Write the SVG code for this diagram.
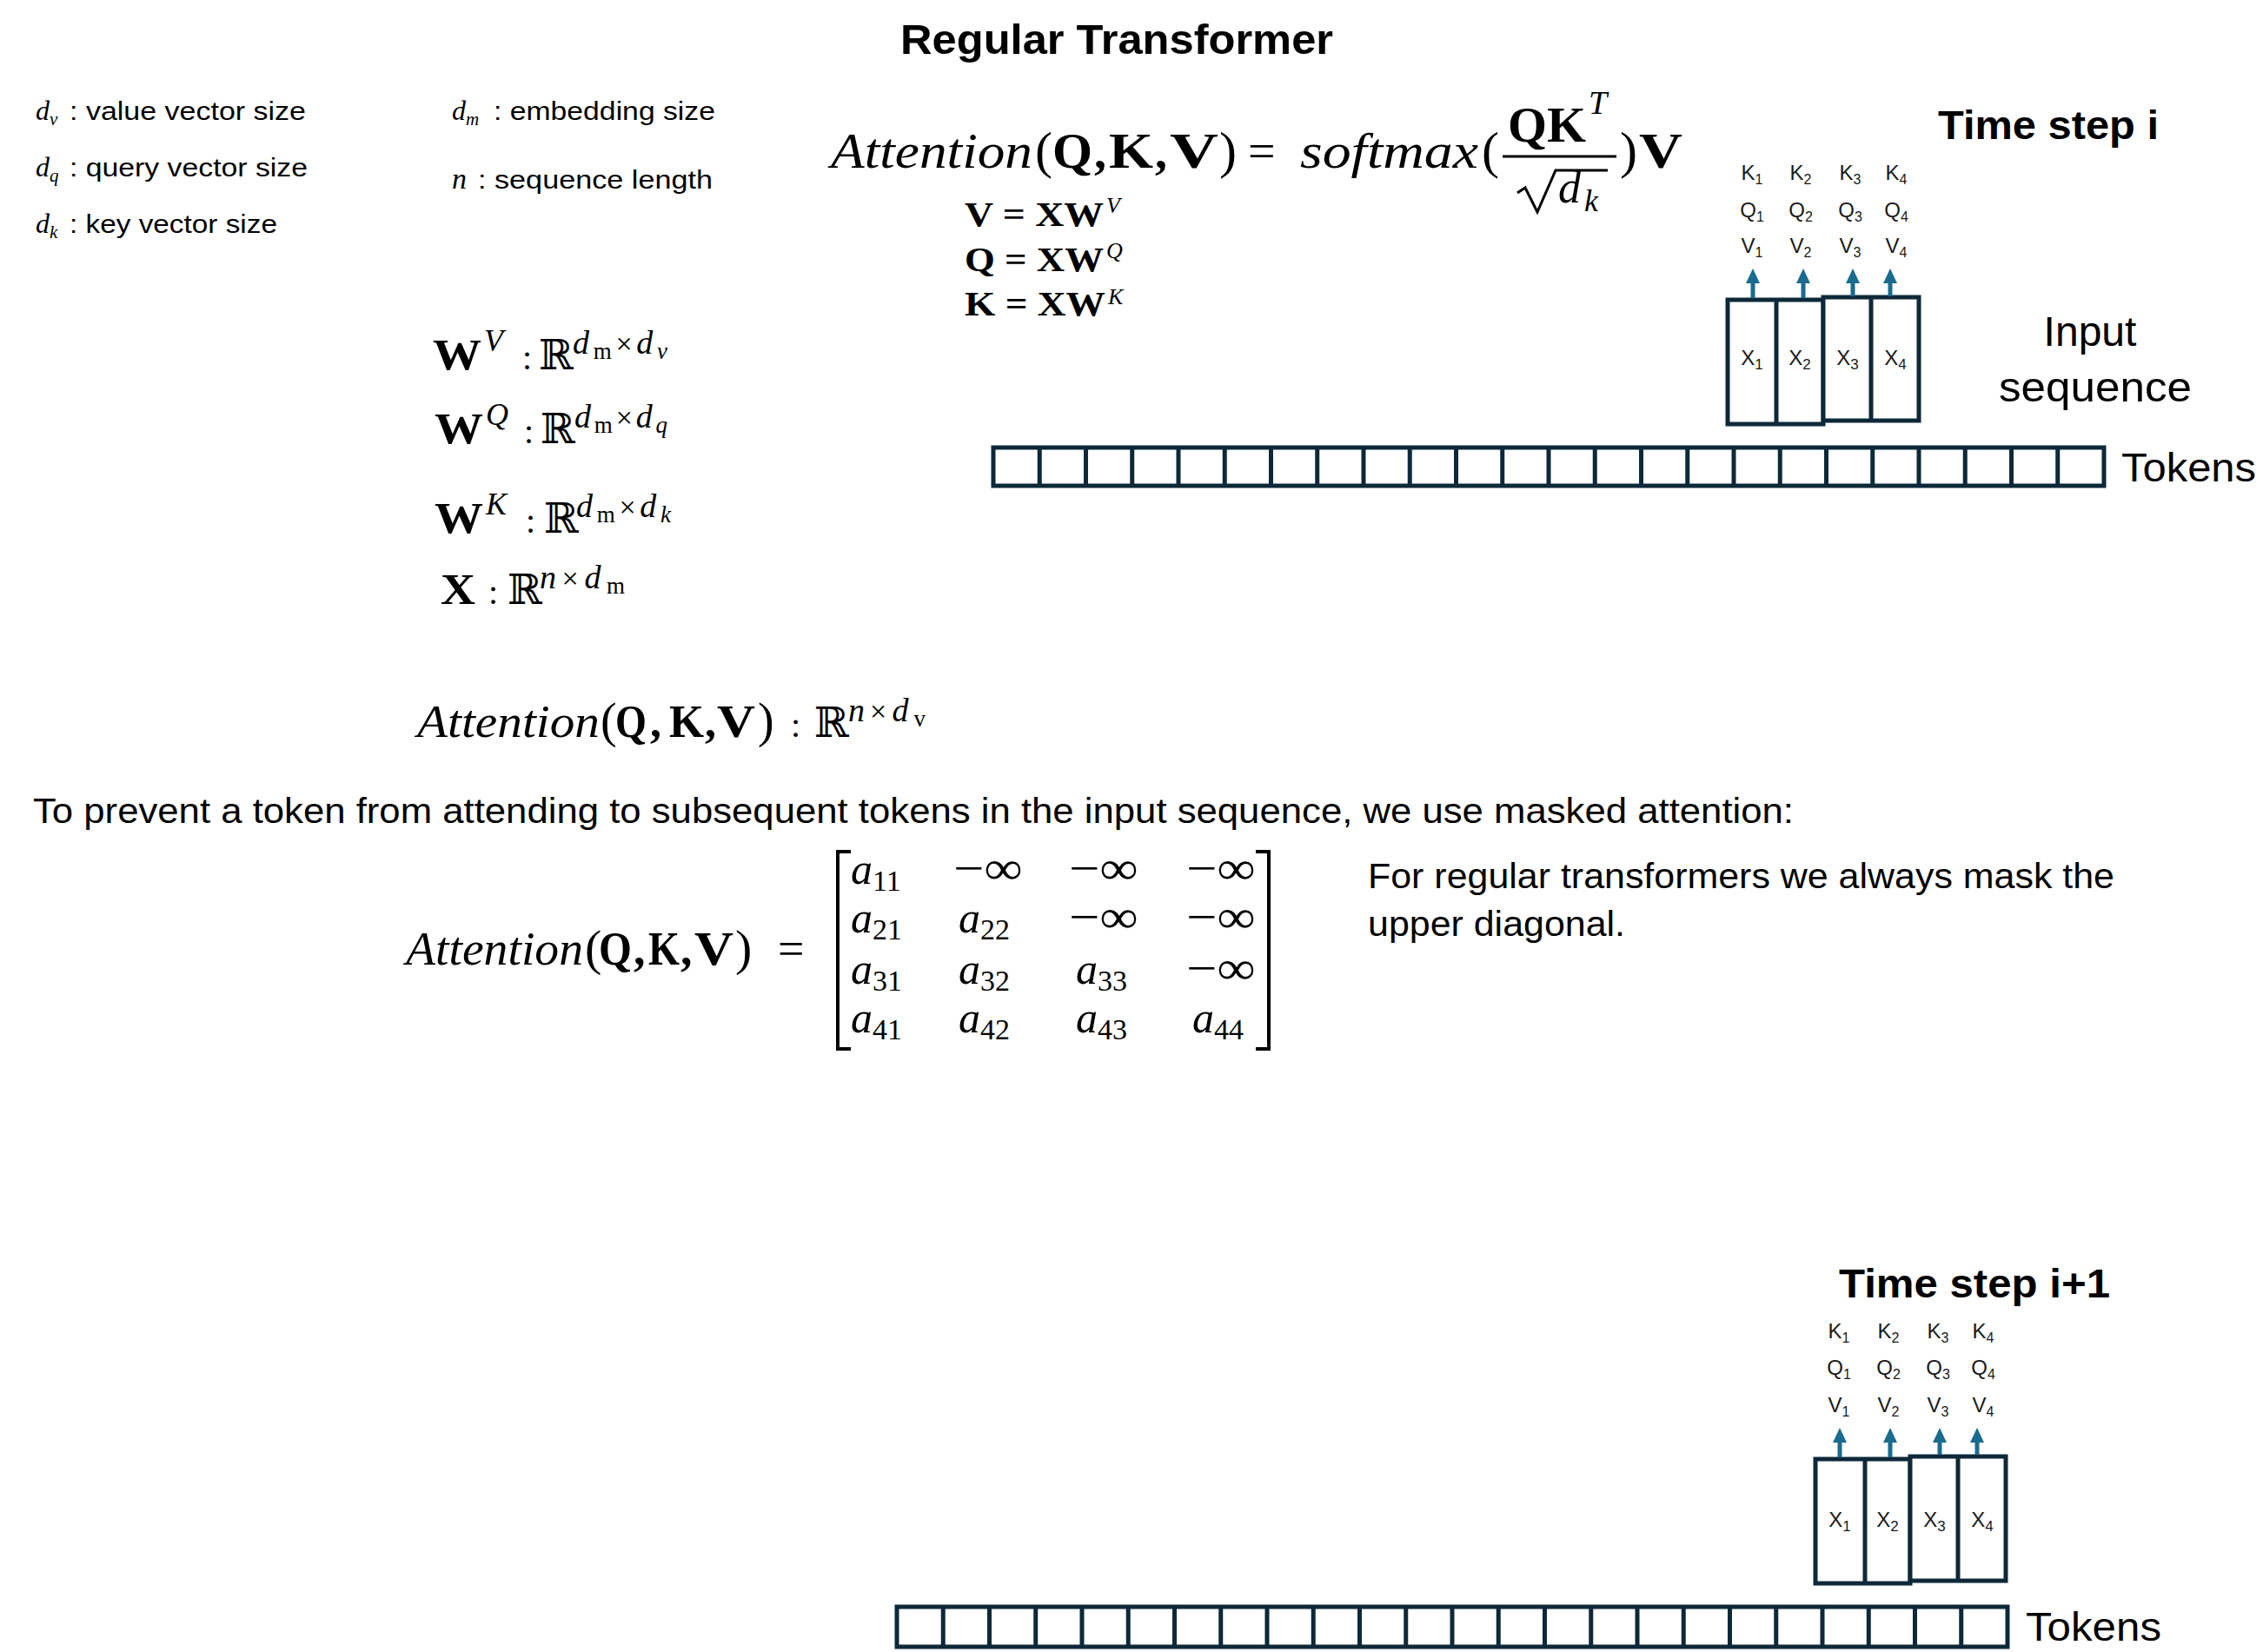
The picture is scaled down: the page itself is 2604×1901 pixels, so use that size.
<svg xmlns="http://www.w3.org/2000/svg" width="2604" height="1901" viewBox="0 0 2604 1901">
<style>
  .sans{font-family:"Liberation Sans",Arial,sans-serif;fill:#000}
  .bold{font-family:"Liberation Sans",Arial,sans-serif;font-weight:bold;fill:#000}
  .ser{font-family:"Liberation Serif","Times New Roman",serif;fill:#000}
  .it{font-family:"Liberation Serif","Times New Roman",serif;font-style:italic;fill:#000}
  .bf{font-family:"Liberation Serif","Times New Roman",serif;font-weight:bold;fill:#000}
  .bb{font-family:"DejaVu Serif","Liberation Serif",serif;fill:#000}
  .lbl{font-family:"Liberation Sans",Arial,sans-serif;font-size:24px;fill:#1a1a1a;text-anchor:middle}
  .box{fill:#fff;stroke:#0D2939;stroke-width:5}
  .strip{fill:none;stroke:#0D2939;stroke-width:5}
  .arrow{stroke:#1B6B8E;stroke-width:5;fill:none}
</style>
<defs>
  <marker id="ah" markerUnits="userSpaceOnUse" markerWidth="18" markerHeight="18" refX="0" refY="8" orient="auto">
    <path d="M0,0 L17,8 L0,16 z" fill="#1B6B8E"/>
  </marker>
</defs>
<rect width="2604" height="1901" fill="#fff"/>

<g id="title">
  <text class="bold" x="1036" y="62" font-size="48" textLength="498" lengthAdjust="spacingAndGlyphs">Regular  Transformer</text>
</g>

<g id="definitions">
  <text class="it" x="41" y="138" font-size="32">d<tspan font-size="21" dy="6">v</tspan></text>
  <text class="sans" x="80" y="138" font-size="30" textLength="272" lengthAdjust="spacingAndGlyphs">: value vector size</text>
  <text class="it" x="41" y="203" font-size="32">d<tspan font-size="21" dy="6">q</tspan></text>
  <text class="sans" x="80" y="203" font-size="30" textLength="274" lengthAdjust="spacingAndGlyphs">: query vector size</text>
  <text class="it" x="41" y="268" font-size="32">d<tspan font-size="21" dy="6">k</tspan></text>
  <text class="sans" x="80" y="268" font-size="30" textLength="239" lengthAdjust="spacingAndGlyphs">: key vector size</text>
  <text class="it" x="520" y="138" font-size="32">d<tspan font-size="21" dy="6">m</tspan></text>
  <text class="sans" x="568" y="138" font-size="30" textLength="255" lengthAdjust="spacingAndGlyphs">: embedding size</text>
  <text class="it" x="520" y="217" font-size="34">n</text>
  <text class="sans" x="550" y="217" font-size="30" textLength="270" lengthAdjust="spacingAndGlyphs">: sequence length</text>
</g>

<g id="attention-formula">
  <text class="it" x="956" y="193" font-size="56" textLength="232" lengthAdjust="spacingAndGlyphs">Attention</text>
  <text class="ser" x="1191" y="193" font-size="60">(</text>
  <text class="bf" x="1211" y="193" font-size="56" textLength="46" lengthAdjust="spacingAndGlyphs">Q</text>
  <text class="bf" x="1259" y="193" font-size="56">,</text>
  <text class="bf" x="1276" y="193" font-size="56" textLength="51" lengthAdjust="spacingAndGlyphs">K</text>
  <text class="bf" x="1329" y="193" font-size="56">,</text>
  <text class="bf" x="1346" y="193" font-size="56" textLength="56" lengthAdjust="spacingAndGlyphs">V</text>
  <text class="ser" x="1403" y="193" font-size="60">)</text>
  <text class="ser" x="1436" y="193" font-size="56">=</text>
  <text class="it" x="1496" y="193" font-size="56" textLength="205" lengthAdjust="spacingAndGlyphs">softmax</text>
  <text class="ser" x="1705" y="193" font-size="60">(</text>
  <text class="bf" x="1735" y="163" font-size="56" textLength="90" lengthAdjust="spacingAndGlyphs">QK</text>
  <text class="it" x="1828" y="131" font-size="38">T</text>
  <line x1="1729" y1="180" x2="1860" y2="180" stroke="#000" stroke-width="3"/>
  <path d="M1746,222 L1755,216 L1769,244 L1790,196 H1850" fill="none" stroke="#000" stroke-width="3" stroke-linejoin="miter"/>
  <text class="it" x="1793" y="233" font-size="52">d</text>
  <text class="it" x="1823" y="243" font-size="36">k</text>
  <text class="ser" x="1864" y="193" font-size="60">)</text>
  <text class="bf" x="1886" y="193" font-size="56" textLength="50" lengthAdjust="spacingAndGlyphs">V</text>
</g>

<g id="projections">
  <text class="bf" x="1110" y="260" font-size="40" textLength="160" lengthAdjust="spacingAndGlyphs">V = XW</text>
  <text class="it" x="1273" y="245" font-size="26">V</text>
  <text class="bf" x="1110" y="312" font-size="40" textLength="160" lengthAdjust="spacingAndGlyphs">Q = XW</text>
  <text class="it" x="1273" y="297" font-size="26">Q</text>
  <text class="bf" x="1110" y="363" font-size="40" textLength="162" lengthAdjust="spacingAndGlyphs">K = XW</text>
  <text class="it" x="1275" y="350" font-size="26">K</text>
</g>

<g id="dimensions">
  <text class="bf" x="498" y="425" font-size="50" textLength="56" lengthAdjust="spacingAndGlyphs">W</text>
  <text class="it" x="557" y="404" font-size="36">V</text>
  <text class="ser" x="601" y="425" font-size="40">:</text>
  <text class="bb" x="620" y="425" font-size="48">ℝ</text>
  <text class="it" x="659" y="407" font-size="38" textLength="109" lengthAdjust="spacing">d<tspan class="ser" font-style="normal" font-size="27" dy="6">m</tspan><tspan class="ser" font-style="normal" font-size="34" dy="-6">×</tspan>d<tspan font-size="27" dy="6">v</tspan></text>

  <text class="bf" x="500" y="510" font-size="50" textLength="56" lengthAdjust="spacingAndGlyphs">W</text>
  <text class="it" x="559" y="489" font-size="36">Q</text>
  <text class="ser" x="603" y="510" font-size="40">:</text>
  <text class="bb" x="622" y="510" font-size="48">ℝ</text>
  <text class="it" x="661" y="492" font-size="38" textLength="107" lengthAdjust="spacing">d<tspan class="ser" font-style="normal" font-size="27" dy="6">m</tspan><tspan class="ser" font-style="normal" font-size="34" dy="-6">×</tspan>d<tspan font-size="27" dy="6">q</tspan></text>

  <text class="bf" x="500" y="613" font-size="50" textLength="56" lengthAdjust="spacingAndGlyphs">W</text>
  <text class="it" x="559" y="592" font-size="36">K</text>
  <text class="ser" x="605" y="613" font-size="40">:</text>
  <text class="bb" x="626" y="613" font-size="48">ℝ</text>
  <text class="it" x="663" y="595" font-size="38" textLength="109" lengthAdjust="spacing">d<tspan class="ser" font-style="normal" font-size="27" dy="6">m</tspan><tspan class="ser" font-style="normal" font-size="34" dy="-6">×</tspan>d<tspan font-size="27" dy="6">k</tspan></text>

  <text class="bf" x="507" y="695" font-size="50" textLength="40" lengthAdjust="spacingAndGlyphs">X</text>
  <text class="ser" x="562" y="695" font-size="40">:</text>
  <text class="bb" x="584" y="695" font-size="48">ℝ</text>
  <text class="it" x="621" y="677" font-size="38" textLength="98" lengthAdjust="spacing">n<tspan class="ser" font-style="normal" font-size="34">×</tspan>d<tspan class="ser" font-style="normal" font-size="27" dy="6">m</tspan></text>

  <text class="it" x="480" y="848" font-size="52" textLength="210" lengthAdjust="spacingAndGlyphs">Attention</text>
  <text class="ser" x="691" y="848" font-size="56">(</text>
  <text class="bf" x="708" y="848" font-size="52" textLength="36" lengthAdjust="spacingAndGlyphs">Q</text>
  <text class="bf" x="748" y="848" font-size="52">,</text>
  <text class="bf" x="770" y="848" font-size="52" textLength="40" lengthAdjust="spacingAndGlyphs">K</text>
  <text class="bf" x="811" y="848" font-size="52">,</text>
  <text class="bf" x="825" y="848" font-size="52" textLength="44" lengthAdjust="spacingAndGlyphs">V</text>
  <text class="ser" x="872" y="848" font-size="56">)</text>
  <text class="ser" x="910" y="848" font-size="40">:</text>
  <text class="bb" x="937" y="848" font-size="48">ℝ</text>
  <text class="it" x="976" y="830" font-size="38" textLength="89" lengthAdjust="spacing">n<tspan class="ser" font-style="normal" font-size="34">×</tspan>d<tspan class="ser" font-style="normal" font-size="27" dy="6">v</tspan></text>
</g>

<g id="mask-text">
  <text class="sans" x="38" y="947" font-size="40" textLength="2026" lengthAdjust="spacingAndGlyphs">To prevent a token from attending to subsequent tokens in the input sequence, we use masked attention:</text>
  <text class="sans" x="1574" y="1022" font-size="40" textLength="859" lengthAdjust="spacingAndGlyphs">For regular transformers we always mask the</text>
  <text class="sans" x="1574" y="1077" font-size="40" textLength="296" lengthAdjust="spacingAndGlyphs">upper diagonal.</text>
</g>

<g id="masked-matrix">
  <text class="it" x="467" y="1110" font-size="54" textLength="204" lengthAdjust="spacingAndGlyphs">Attention</text>
  <text class="ser" x="673" y="1110" font-size="58">(</text>
  <text class="bf" x="689" y="1110" font-size="54" textLength="38" lengthAdjust="spacingAndGlyphs">Q</text>
  <text class="bf" x="729" y="1110" font-size="54">,</text>
  <text class="bf" x="746" y="1110" font-size="54" textLength="36" lengthAdjust="spacingAndGlyphs">K</text>
  <text class="bf" x="783" y="1110" font-size="54">,</text>
  <text class="bf" x="799" y="1110" font-size="54" textLength="45" lengthAdjust="spacingAndGlyphs">V</text>
  <text class="ser" x="846" y="1110" font-size="58">)</text>
  <text class="ser" x="895" y="1110" font-size="54">=</text>
  <path d="M979,980 H964 V1207 H979 M1445,980 H1460 V1207 H1445" fill="none" stroke="#000" stroke-width="4"/>
  <g class="it" font-size="50">
    <text x="979" y="1017">a<tspan class="ser" font-style="normal" font-size="34" dy="8">11</tspan></text>
    <text x="979" y="1073">a<tspan class="ser" font-style="normal" font-size="34" dy="8">21</tspan></text>
    <text x="979" y="1132">a<tspan class="ser" font-style="normal" font-size="34" dy="8">31</tspan></text>
    <text x="979" y="1188">a<tspan class="ser" font-style="normal" font-size="34" dy="8">41</tspan></text>
    <text x="1103" y="1073">a<tspan class="ser" font-style="normal" font-size="34" dy="8">22</tspan></text>
    <text x="1103" y="1132">a<tspan class="ser" font-style="normal" font-size="34" dy="8">32</tspan></text>
    <text x="1103" y="1188">a<tspan class="ser" font-style="normal" font-size="34" dy="8">42</tspan></text>
    <text x="1238" y="1132">a<tspan class="ser" font-style="normal" font-size="34" dy="8">33</tspan></text>
    <text x="1238" y="1188">a<tspan class="ser" font-style="normal" font-size="34" dy="8">43</tspan></text>
    <text x="1372" y="1188">a<tspan class="ser" font-style="normal" font-size="34" dy="8">44</tspan></text>
  </g>
  <g class="ser" font-size="54">
    <text x="1097" y="1017" textLength="80" lengthAdjust="spacingAndGlyphs">−∞</text>
    <text x="1230" y="1017" textLength="80" lengthAdjust="spacingAndGlyphs">−∞</text>
    <text x="1365" y="1017" textLength="80" lengthAdjust="spacingAndGlyphs">−∞</text>
    <text x="1230" y="1073" textLength="80" lengthAdjust="spacingAndGlyphs">−∞</text>
    <text x="1365" y="1073" textLength="80" lengthAdjust="spacingAndGlyphs">−∞</text>
    <text x="1365" y="1132" textLength="80" lengthAdjust="spacingAndGlyphs">−∞</text>
  </g>
</g>

<!-- Time step i -->
<g id="timestep-i-label">
  <text class="bold" x="2230" y="160" font-size="46" textLength="254" lengthAdjust="spacingAndGlyphs">Time step i</text>
</g>
<g id="kqv-i">
  <text class="lbl" x="2016" y="207">K<tspan font-size="16" dy="5">1</tspan></text>
  <text class="lbl" x="2072" y="207">K<tspan font-size="16" dy="5">2</tspan></text>
  <text class="lbl" x="2129" y="207">K<tspan font-size="16" dy="5">3</tspan></text>
  <text class="lbl" x="2182" y="207">K<tspan font-size="16" dy="5">4</tspan></text>
  <text class="lbl" x="2016" y="250">Q<tspan font-size="16" dy="5">1</tspan></text>
  <text class="lbl" x="2072" y="250">Q<tspan font-size="16" dy="5">2</tspan></text>
  <text class="lbl" x="2129" y="250">Q<tspan font-size="16" dy="5">3</tspan></text>
  <text class="lbl" x="2182" y="250">Q<tspan font-size="16" dy="5">4</tspan></text>
  <text class="lbl" x="2016" y="291">V<tspan font-size="16" dy="5">1</tspan></text>
  <text class="lbl" x="2072" y="291">V<tspan font-size="16" dy="5">2</tspan></text>
  <text class="lbl" x="2129" y="291">V<tspan font-size="16" dy="5">3</tspan></text>
  <text class="lbl" x="2182" y="291">V<tspan font-size="16" dy="5">4</tspan></text>
</g>
<g id="input-seq-i">
  <rect class="box" x="1988" y="345" width="110" height="143"/>
  <rect class="box" x="2098" y="342" width="110" height="142"/>
  <line x1="2044" y1="345" x2="2044" y2="488" stroke="#0D2939" stroke-width="5"/>
  <line x1="2153" y1="342" x2="2153" y2="484" stroke="#0D2939" stroke-width="5"/>
  <text class="lbl" x="2016" y="420" font-size="26">X<tspan font-size="17" dy="5">1</tspan></text>
  <text class="lbl" x="2071" y="420" font-size="26">X<tspan font-size="17" dy="5">2</tspan></text>
  <text class="lbl" x="2126" y="420" font-size="26">X<tspan font-size="17" dy="5">3</tspan></text>
  <text class="lbl" x="2181" y="420" font-size="26">X<tspan font-size="17" dy="5">4</tspan></text>
</g>
<g id="input-sequence-label">
  <text class="sans" x="2405" y="398" font-size="48" text-anchor="middle">Input</text>
  <text class="sans" x="2411" y="462" font-size="48" text-anchor="middle" textLength="222" lengthAdjust="spacingAndGlyphs">sequence</text>
</g>
<g id="tokens-i">
  <rect class="strip" x="1143" y="515" width="1278" height="44"/>
  <path class="strip" d="M1196.25,515V559M1249.5,515V559M1302.75,515V559M1356,515V559M1409.25,515V559M1462.5,515V559M1515.75,515V559M1569,515V559M1622.25,515V559M1675.5,515V559M1728.75,515V559M1782,515V559M1835.25,515V559M1888.5,515V559M1941.75,515V559M1995,515V559M2048.25,515V559M2101.5,515V559M2154.75,515V559M2208,515V559M2261.25,515V559M2314.5,515V559M2367.75,515V559"/>
  <text class="sans" x="2441" y="554" font-size="46" textLength="155" lengthAdjust="spacingAndGlyphs">Tokens</text>
</g>

<!-- Time step i+1 -->
<g id="timestep-i1-label">
  <text class="bold" x="2116" y="1493" font-size="46" textLength="312" lengthAdjust="spacingAndGlyphs">Time step i+1</text>
</g>
<g id="kqv-i1">
  <text class="lbl" x="2116" y="1540">K<tspan font-size="16" dy="5">1</tspan></text>
  <text class="lbl" x="2173" y="1540">K<tspan font-size="16" dy="5">2</tspan></text>
  <text class="lbl" x="2230" y="1540">K<tspan font-size="16" dy="5">3</tspan></text>
  <text class="lbl" x="2282" y="1540">K<tspan font-size="16" dy="5">4</tspan></text>
  <text class="lbl" x="2116" y="1582">Q<tspan font-size="16" dy="5">1</tspan></text>
  <text class="lbl" x="2173" y="1582">Q<tspan font-size="16" dy="5">2</tspan></text>
  <text class="lbl" x="2230" y="1582">Q<tspan font-size="16" dy="5">3</tspan></text>
  <text class="lbl" x="2282" y="1582">Q<tspan font-size="16" dy="5">4</tspan></text>
  <text class="lbl" x="2116" y="1625">V<tspan font-size="16" dy="5">1</tspan></text>
  <text class="lbl" x="2173" y="1625">V<tspan font-size="16" dy="5">2</tspan></text>
  <text class="lbl" x="2230" y="1625">V<tspan font-size="16" dy="5">3</tspan></text>
  <text class="lbl" x="2282" y="1625">V<tspan font-size="16" dy="5">4</tspan></text>
</g>
<g id="input-seq-i1">
  <rect class="box" x="2089" y="1679" width="109" height="143"/>
  <rect class="box" x="2198" y="1676" width="110" height="143"/>
  <line x1="2146" y1="1679" x2="2146" y2="1822" stroke="#0D2939" stroke-width="5"/>
  <line x1="2253" y1="1676" x2="2253" y2="1819" stroke="#0D2939" stroke-width="5"/>
  <text class="lbl" x="2117" y="1757" font-size="26">X<tspan font-size="17" dy="5">1</tspan></text>
  <text class="lbl" x="2172" y="1757" font-size="26">X<tspan font-size="17" dy="5">2</tspan></text>
  <text class="lbl" x="2226" y="1757" font-size="26">X<tspan font-size="17" dy="5">3</tspan></text>
  <text class="lbl" x="2281" y="1757" font-size="26">X<tspan font-size="17" dy="5">4</tspan></text>
</g>
<g id="tokens-i1">
  <rect class="strip" x="1032" y="1849" width="1278" height="46"/>
  <path class="strip" d="M1085.25,1849V1895M1138.5,1849V1895M1191.75,1849V1895M1245,1849V1895M1298.25,1849V1895M1351.5,1849V1895M1404.75,1849V1895M1458,1849V1895M1511.25,1849V1895M1564.5,1849V1895M1617.75,1849V1895M1671,1849V1895M1724.25,1849V1895M1777.5,1849V1895M1830.75,1849V1895M1884,1849V1895M1937.25,1849V1895M1990.5,1849V1895M2043.75,1849V1895M2097,1849V1895M2150.25,1849V1895M2203.5,1849V1895M2256.75,1849V1895"/>
  <text class="sans" x="2331" y="1888" font-size="46" textLength="156" lengthAdjust="spacingAndGlyphs">Tokens</text>
</g>

<g id="connectors">
  <line class="arrow" x1="2017" y1="343" x2="2017" y2="326" marker-end="url(#ah)"/>
  <line class="arrow" x1="2075" y1="343" x2="2075" y2="326" marker-end="url(#ah)"/>
  <line class="arrow" x1="2132" y1="341" x2="2132" y2="326" marker-end="url(#ah)"/>
  <line class="arrow" x1="2175" y1="341" x2="2175" y2="326" marker-end="url(#ah)"/>
  <line class="arrow" x1="2117" y1="1677" x2="2117" y2="1660" marker-end="url(#ah)"/>
  <line class="arrow" x1="2175" y1="1677" x2="2175" y2="1660" marker-end="url(#ah)"/>
  <line class="arrow" x1="2232" y1="1674" x2="2232" y2="1660" marker-end="url(#ah)"/>
  <line class="arrow" x1="2275" y1="1674" x2="2275" y2="1660" marker-end="url(#ah)"/>
</g>
</svg>
